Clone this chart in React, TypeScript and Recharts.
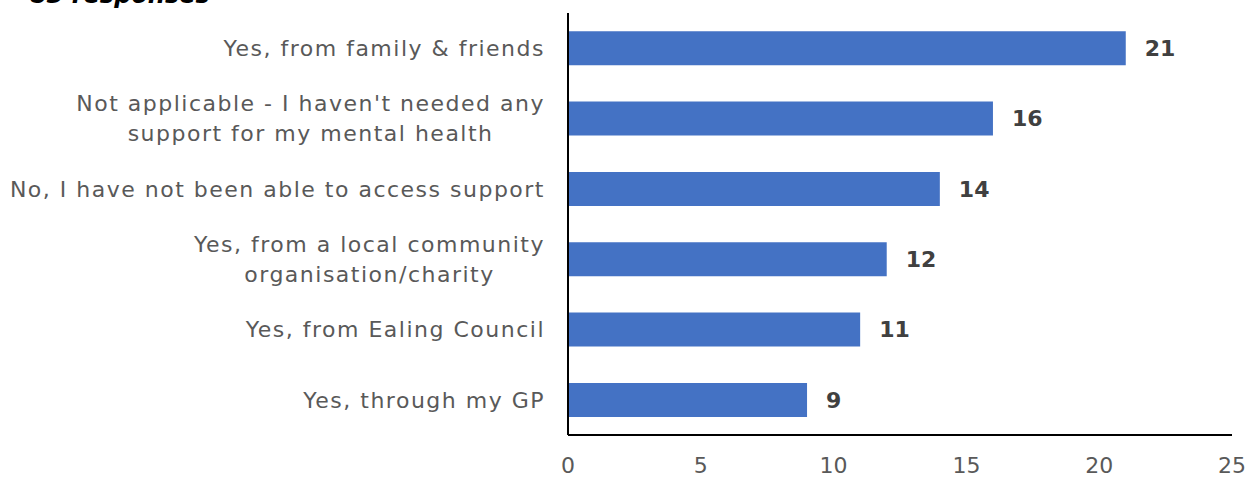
import React from "react";
import { Bar, BarChart, LabelList, XAxis, YAxis } from "recharts";

const categories = [
  "Yes, from family & friends",
  "Not applicable - I haven't needed any\nsupport for my mental health",
  "No, I have not been able to access support",
  "Yes, from a local community\norganisation/charity",
  "Yes, from Ealing Council",
  "Yes, through my GP",
];
const responses = [21, 16, 14, 12, 11, 9];
const xTicks = [0, 5, 10, 15, 20, 25];

const data = categories.map((name, i) => ({ name, value: responses[i] }));

const FONT = "'DejaVu Sans', Verdana, sans-serif";
const FONT_SIZE = 22;
const SPACING = 1.5;

let ctx: CanvasRenderingContext2D | null = null;
function measure(text: string) {
  if (!ctx) ctx = document.createElement("canvas").getContext("2d");
  if (!ctx) return text.length * 14;
  ctx.font = `${FONT_SIZE}px 'DejaVu Sans'`;
  return ctx.measureText(text).width + text.length * SPACING;
}

function CategoryTick(props: any) {
  const { x, y, payload } = props;
  const lines = String(payload.value).split("\n");
  const lineHeight = 30;
  const startY = y - ((lines.length - 1) * lineHeight) / 2;
  if (lines.length === 1) {
    return (
      <text
        x={x}
        y={y}
        dy="0.35em"
        textAnchor="end"
        fill="#595959"
        fontSize={FONT_SIZE}
        fontFamily={FONT}
        letterSpacing={SPACING}
      >
        {lines[0]}
      </text>
    );
  }
  const maxW = Math.max(...lines.map(measure));
  const cx = x - maxW / 2;
  return (
    <text textAnchor="middle" fill="#595959" fontSize={FONT_SIZE} fontFamily={FONT} letterSpacing={SPACING}>
      {lines.map((l, i) => (
        <tspan key={i} x={cx} y={startY + i * lineHeight} dy="0.35em">
          {l}
        </tspan>
      ))}
    </text>
  );
}

export default function App() {
  return (
    <div style={{ position: "absolute", left: 0, top: 0, width: 1257, height: 483, background: "#fff" }}>
      <svg width={1257} height={483} style={{ position: "absolute", left: 0, top: 0 }}>
        <text x={30} y={3} fontSize={24} fontWeight="bold" fontStyle="italic" fontFamily={FONT} fill="#000">
          83 responses
        </text>
      </svg>
      <BarChart
        width={1257}
        height={483}
        data={data}
        layout="vertical"
        margin={{ top: 13, right: 25, bottom: 8, left: 0 }}
        barCategoryGap="26%"
        style={{ position: "absolute", left: 0, top: 0 }}
      >
        <XAxis
          type="number"
          domain={[0, 25]}
          ticks={xTicks}
          tickLine={false}
          axisLine={{ stroke: "#000", strokeWidth: 2 }}
          tick={{ fill: "#595959", fontSize: FONT_SIZE, fontFamily: FONT }}
          tickMargin={16}
          height={40}
        />
        <YAxis
          type="category"
          dataKey="name"
          width={568}
          tickLine={false}
          axisLine={{ stroke: "#000", strokeWidth: 2 }}
          tick={<CategoryTick />}
          tickMargin={17}
          interval={0}
        />
        <Bar dataKey="value" fill="#4472C4" isAnimationActive={false}>
          <LabelList
            dataKey="value"
            position="right"
            offset={19}
            fill="#404040"
            fontSize={FONT_SIZE}
            fontWeight="bold"
            fontFamily={FONT}
          />
        </Bar>
      </BarChart>
    </div>
  );
}
